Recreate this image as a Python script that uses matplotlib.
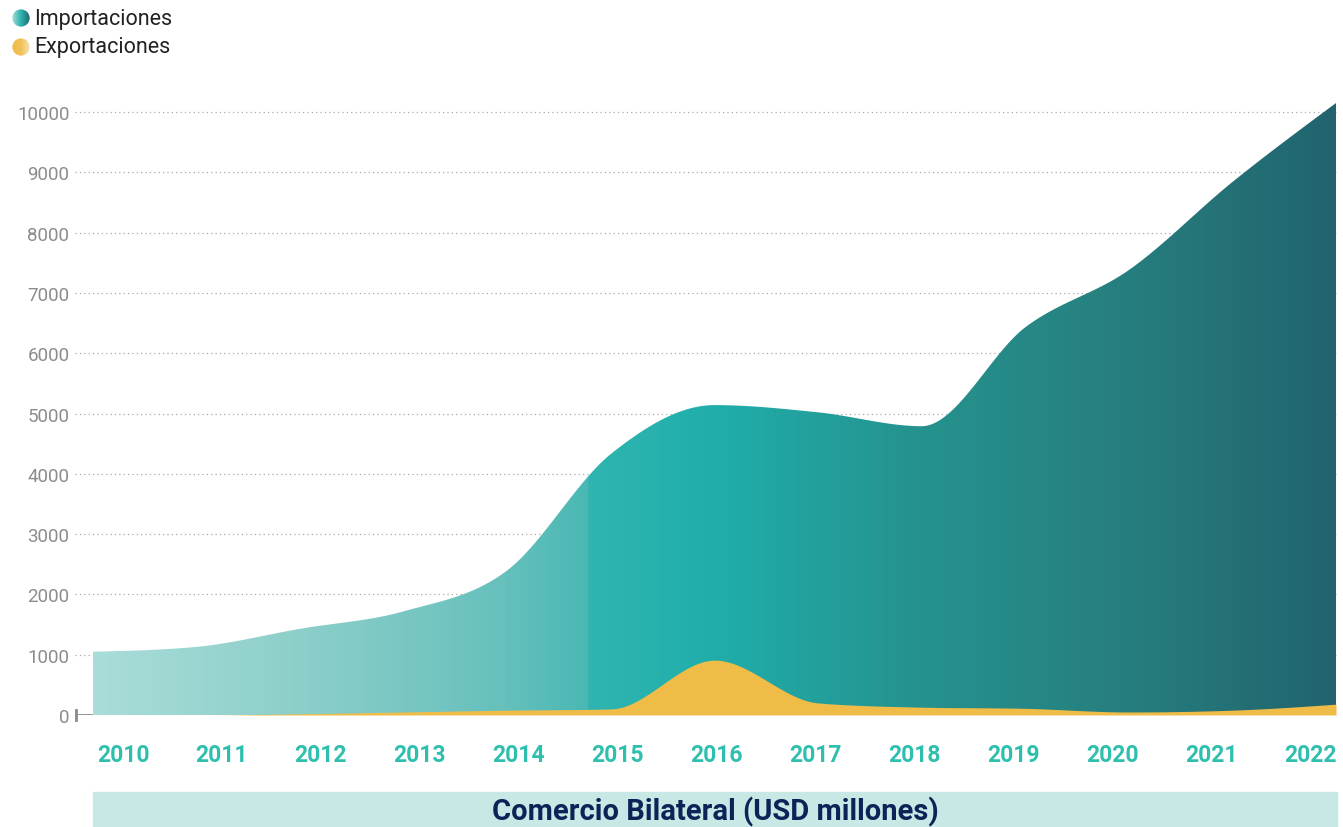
import numpy as np
import matplotlib
matplotlib.use("Agg")
import matplotlib.pyplot as plt
from matplotlib.colors import LinearSegmentedColormap
from matplotlib.patches import Rectangle, Circle

# data (USD millones)
years = [2010, 2011, 2012, 2013, 2014, 2015, 2016, 2017, 2018, 2019, 2020, 2021, 2022]
importaciones = [1050, 1130, 1430, 1720, 2400, 4330, 5140, 5020, 4790, 6430, 7380, 8840, 10150]
exportaciones = [0, 0, 20, 50, 80, 100, 910, 200, 130, 110, 50, 80, 180]
y_ticks = [0, 1000, 2000, 3000, 4000, 5000, 6000, 7000, 8000, 9000, 10000]
titulo = "Comercio Bilateral (USD millones)"


# monotone cubic (Steffen) smoothing, only for drawing the curves
def smooth(x, y, n=800):
    x = np.asarray(x, float)
    y = np.asarray(y, float)
    h = np.diff(x)
    d = np.diff(y) / h
    m = np.zeros_like(y)
    for k in range(1, len(y) - 1):
        p = (d[k - 1] * h[k] + d[k] * h[k - 1]) / (h[k - 1] + h[k])
        m[k] = (np.sign(d[k - 1]) + np.sign(d[k])) * min(abs(d[k - 1]), abs(d[k]), 0.5 * abs(p))
    m[0] = (3 * d[0] - m[1]) / 2
    m[-1] = (3 * d[-1] - m[-2]) / 2
    xs = np.linspace(x[0], x[-1], n)
    idx = np.clip(np.searchsorted(x, xs) - 1, 0, len(x) - 2)
    t = (xs - x[idx]) / h[idx]
    h00 = 2 * t**3 - 3 * t**2 + 1
    h10 = t**3 - 2 * t**2 + t
    h01 = -2 * t**3 + 3 * t**2
    h11 = t**3 - t**2
    ys = h00 * y[idx] + h10 * h[idx] * m[idx] + h01 * y[idx + 1] + h11 * h[idx] * m[idx + 1]
    return xs, np.maximum(ys, 0)


fig = plt.figure(figsize=(13.43, 8.28), dpi=100)
W, H = 1343, 828
ax = fig.add_axes([75 / W, 1 - 716 / H, (1338 - 75) / W, (716 - 98) / H])

x0 = years[0] - 18 / 103.58
x1 = years[-1] + 2 / 103.58
ax.set_xlim(x0, x1)
ax.set_ylim(0, 10250)

# dotted grid
for v in y_ticks[1:]:
    ax.plot([x0, years[-1]], [v, v], color="#a8a8a8", lw=0.9, ls=(0, (1, 2.5)), zorder=1)
ax.plot([x0, years[0]], [0, 0], color="#8a8a8a", lw=2, zorder=1, solid_capstyle="butt")
ax.plot([x0 + 0.01, x0 + 0.01], [-80, 80], color="#8a8a8a", lw=2, zorder=1, clip_on=False)

# imports: gradient filled area
xs, ys = smooth(years, importaciones)
poly = ax.fill_between(xs, 0, ys, color="none", lw=0, zorder=2)
imp_cmap = LinearSegmentedColormap.from_list("imp", [
    (0.0, "#a9ddd9"), (0.17, "#8ccec9"), (0.33, "#66c0bc"), (0.397, "#4ab8b4"),
    (0.3971, "#30b5b0"), (0.50, "#20aeab"), (0.66, "#25938f"),
    (0.82, "#27807f"), (1.0, "#21646e")])
grad = np.linspace(0, 1, 512).reshape(1, -1)
im = ax.imshow(grad, cmap=imp_cmap, aspect="auto", extent=[years[0], years[-1], 0, 10250],
               zorder=2, interpolation="bilinear")
im.set_clip_path(poly.get_paths()[0], transform=ax.transData)

# exports
xe, ye = smooth(years, exportaciones)
ax.fill_between(xe, 0, ye, color="#f0bc48", lw=0, zorder=3)

for s in ax.spines.values():
    s.set_visible(False)
ax.set_yticks(y_ticks)
ax.set_yticklabels([str(v) for v in y_ticks], fontsize=13.5, color="#8c8c8c",
                   family="Roboto")
ax.tick_params(axis="y", length=0, pad=4)
ax.set_xticks([])

# year labels, spread evenly under the plot
label_pos = np.linspace(years[0] + 0.29, years[-1] - 0.25, len(years))
for px, yr in zip(label_pos, years):
    ax.text(px, -650, str(yr), ha="center", va="center", fontsize=16.5,
            color="#2ebfae", family="Roboto", fontweight="bold")

# bottom band with title
fig.patches.append(Rectangle((93 / W, 0), (1337 - 93) / W, (828 - 793) / H,
                             transform=fig.transFigure, color="#c8e8e6", zorder=0))
fig.text((93 + 1337) / 2 / W, 1 - 812 / H, titulo, ha="center", va="center",
         fontsize=21, fontweight="bold", color="#0b2457", family="Roboto")

# legend with gradient dots
leg_cmaps = [
    LinearSegmentedColormap.from_list("li", ["#a9ddd9", "#2ab3ae", "#22666e"]),
    LinearSegmentedColormap.from_list("le", ["#f0bb45", "#f1c25a", "#f8e3b0"]),
]
for i, lab in enumerate(["Importaciones", "Exportaciones"]):
    cy = 19 + 29 * i
    lax = fig.add_axes([12 / W, 1 - (cy + 9) / H, 18 / W, 18 / H])
    lax.set_axis_off()
    g = lax.imshow(grad, cmap=leg_cmaps[i], aspect="auto", extent=[0, 1, 0, 1])
    g.set_clip_path(Circle((0.5, 0.5), 0.48, transform=lax.transAxes))
    fig.text(34 / W, 1 - cy / H, lab, ha="left", va="center", fontsize=15.5,
             color="#222222", family="Roboto")

fig.savefig("out.png", dpi=100)
